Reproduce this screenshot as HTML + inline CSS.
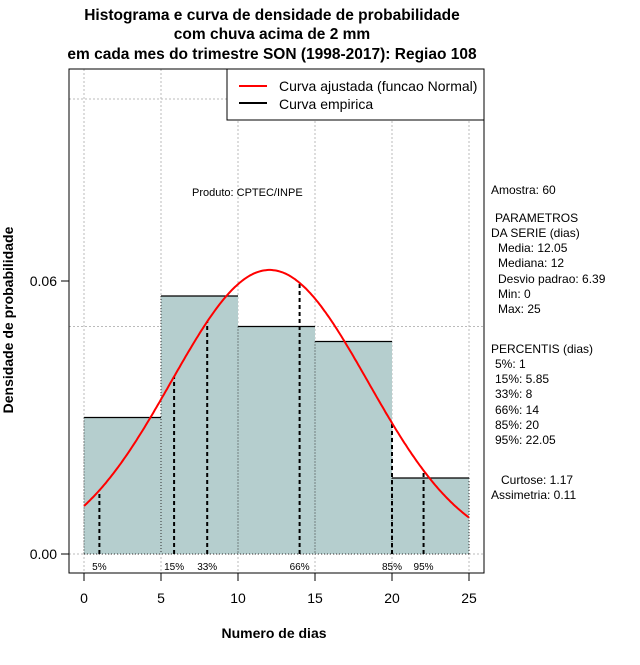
<!DOCTYPE html>
<html><head><meta charset="utf-8"><style>
body{margin:0;background:#fff;}
svg text{font-family:"Liberation Sans",sans-serif;}
</style></head><body>
<svg id="chart" width="640" height="660" xmlns="http://www.w3.org/2000/svg">
<g font-weight="bold" font-size="15.5" text-anchor="middle">
<text x="272" y="20">Histograma e curva de densidade de probabilidade</text>
<text x="272" y="39">com chuva acima de 2 mm</text>
<text x="272" y="59">em cada mes do trimestre SON (1998-2017): Regiao 108</text>
</g>
<g id="grid"></g>
<g id="bars"></g>
<g id="gridTop"></g>
<g id="pct"></g>
<path id="curve" fill="none" stroke="#ff0000" stroke-width="2"/>
<rect x="69" y="69" width="415" height="504" fill="none" stroke="#000"/>
<g id="axes"></g>
<text x="192" y="196" font-size="11">Produto: CPTEC/INPE</text>
<g>
<rect x="227" y="69" width="257" height="51" fill="#fff" stroke="#000"/>
<line x1="239" y1="86" x2="267" y2="86" stroke="#ff0000" stroke-width="2"/>
<text x="279" y="91" font-size="14">Curva ajustada (funcao Normal)</text>
<line x1="239" y1="103" x2="267" y2="103" stroke="#000" stroke-width="2"/>
<text x="279" y="109" font-size="14">Curva empirica</text>
</g>
<g font-size="12">
<text x="491" y="194">Amostra: 60</text>
<text x="495" y="222">PARAMETROS</text>
<text x="491" y="237">DA SERIE (dias)</text>
<text x="498" y="252">Media: 12.05</text>
<text x="498" y="267">Mediana: 12</text>
<text x="498" y="283">Desvio padrao: 6.39</text>
<text x="498" y="298">Min: 0</text>
<text x="498" y="313">Max: 25</text>
<text x="491" y="353">PERCENTIS (dias)</text>
<text x="495" y="368">5%: 1</text>
<text x="495" y="383">15%: 5.85</text>
<text x="495" y="398">33%: 8</text>
<text x="495" y="414">66%: 14</text>
<text x="495" y="429">85%: 20</text>
<text x="495" y="444">95%: 22.05</text>
<text x="501" y="484">Curtose: 1.17</text>
<text x="491" y="499">Assimetria: 0.11</text>
</g>
<text x="274" y="638" font-size="14" font-weight="bold" text-anchor="middle">Numero de dias</text>
<text transform="translate(13,320) rotate(-90)" font-size="14" font-weight="bold" text-anchor="middle">Densidade de probabilidade</text>
</svg>
<script>
const binEdges=[0,5,10,15,20,25];
const densities=[0.03,0.0567,0.05,0.0467,0.0167];
const pctLabels=["5%","15%","33%","66%","85%","95%"];
const pctValues=[1,5.85,8,14,20,22.05];
const meanVal=12.05, sdVal=6.39;
const xTicks=[0,5,10,15,20,25];
const yTicks=[0,0.06];
const yGrid=[0,0.05,0.1];
const NS="http://www.w3.org/2000/svg";
const X=v=>84+v*15.4;
const Y=v=>554-v*4550;
function mk(parent,tag,attrs){const e=document.createElementNS(NS,tag);for(const k in attrs)e.setAttribute(k,attrs[k]);document.getElementById(parent).appendChild(e);return e;}
const pdf=x=>Math.exp(-0.5*((x-meanVal)/sdVal)**2)/(sdVal*Math.sqrt(2*Math.PI));
xTicks.forEach(t=>{
 const g=mk('grid','line',{x1:X(t),x2:X(t),y1:69,y2:573,stroke:'#bbb','stroke-dasharray':'2,2'});
 
 
});
yGrid.forEach(t=>{
 const g=mk('grid','line',{x1:69,x2:484,y1:Y(t),y2:Y(t),stroke:'#bbb','stroke-dasharray':'2,2'});
 
 
});
densities.forEach((d,i)=>{
 const r=mk('bars','rect',{x:X(binEdges[i]),y:Y(d),width:X(binEdges[i+1])-X(binEdges[i]),height:Y(0)-Y(d),fill:'#b5cece'});
 
 
 const l=mk('bars','line',{x1:X(binEdges[i]),x2:X(binEdges[i+1]),y1:Y(d),y2:Y(d),stroke:'#000','stroke-width':1.3});
 
 
 const s=mk('gridTop','line',{x1:X(binEdges[i]),x2:X(binEdges[i]),y1:Y(d),y2:Y(0),stroke:'#333','stroke-dasharray':'1,2'});
 
 
});
const bl=mk('gridTop','line',{x1:X(0),x2:X(25),y1:Y(0),y2:Y(0),stroke:'#333','stroke-dasharray':'1,2'});


const rs=mk('gridTop','line',{x1:X(25),x2:X(25),y1:Y(densities[4]),y2:Y(0),stroke:'#333','stroke-dasharray':'1,2'});


pctValues.forEach((p,i)=>{
 const l=mk('pct','line',{x1:X(p),x2:X(p),y1:Y(0),y2:Y(pdf(p)),stroke:'#000','stroke-width':2,'stroke-dasharray':'4,3'});
 
 
 const t=mk('pct','text',{x:X(p),y:570,'font-size':10,'text-anchor':'middle'});
 t.textContent=pctLabels[i];
 
 
});
let d='';for(let i=0;i<=250;i++){const x=i*0.1;d+=(i?'L':'M')+X(x).toFixed(1)+','+Y(pdf(x)).toFixed(1);}
document.getElementById('curve').setAttribute('d',d);
xTicks.forEach(t=>{
 const l=mk('axes','line',{x1:X(t),x2:X(t),y1:573,y2:581,stroke:'#000'});
 
 
 const tx=mk('axes','text',{x:X(t),y:603,'font-size':14,'text-anchor':'middle'});
 tx.textContent=t;
 
 
});
yTicks.forEach(t=>{
 const l=mk('axes','line',{x1:61,x2:69,y1:Y(t),y2:Y(t),stroke:'#000'});
 
 
 const tx=mk('axes','text',{x:57,y:Y(t)+5,'font-size':14,'text-anchor':'end'});
 tx.textContent=t.toFixed(2);
 
 
});
</script>
</body></html>
